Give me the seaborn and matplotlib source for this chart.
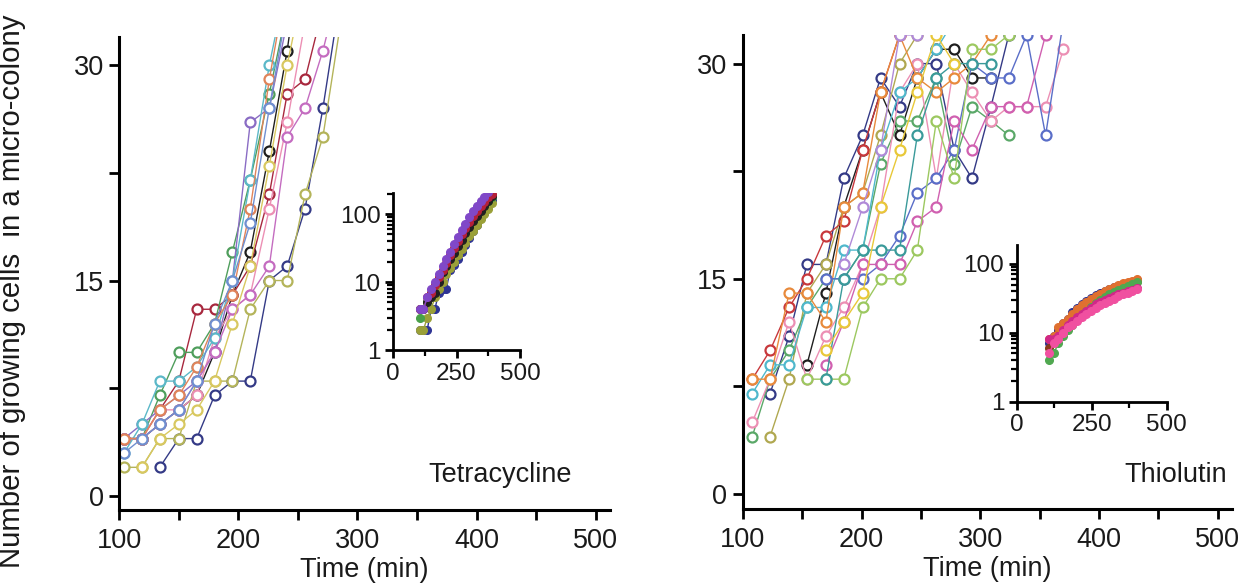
import numpy as np
import pandas as pd
import matplotlib
matplotlib.use("Agg")
import matplotlib.pyplot as plt
import seaborn as sns
from matplotlib.ticker import LogLocator, NullFormatter, FixedLocator

nan = np.nan

# ---------------- data: Tetracycline (left) ----------------
t_left = [104, 119, 134, 150, 165, 180, 195, 210, 226, 241, 256, 271, 286, 301]
l_black  = [4, 4, 5, 6, 7, 10, 14, 17, 24, 31, 40]
l_navy   = [nan, nan, 2, 4, 4, 7, 8, 8, 15, 16, 20, 27, 35]
l_khaki  = [2, 2, 4, 4, 8, 8, 8, 13, 15, 15, 21, 25, 33]
l_red    = [4, 4, 6, 8, 13, 13, 14, 16, 21, 28, 29, 34]
l_green  = [4, 4, 7, 10, 10, 12, 17, 22, 28, 34]
l_pink   = [4, 4, 6, 6, 7, 11, 13, 14, 20, 26, 33]
l_purple = [4, 5, 6, 7, 8, 10, 15, 26, 27, 33]
l_cyan   = [3, 5, 8, 8, 9, 11, 15, 22, 30, 36]
l_mauve  = [4, 4, 5, 6, 8, 10, 13, 14, 16, 25, 27, 31, 36]
l_orange = [4, 4, 6, 7, 9, 12, 14, 20, 29, 36]
l_blue   = [3, 4, 5, 6, 8, 12, 15, 19, 27, 34]
l_yellow = [nan, 2, 4, 5, 6, 8, 12, 16, 23, 30, 36]

# inset (log scale), Tetracycline
ti_left = [105, 120, 135, 150, 165, 180, 195, 210, 225, 240, 255, 270, 285, 300, 315, 330, 345, 360, 375, 390]
li_purple = [4, 4, 6, 8, 10, 13, 17, 22, 28, 36, 46, 58, 72, 90, 110, 130, 155, 180, 210, 250]
li_red    = [4, 4, 6, 7, 9, 12, 15, 19, 25, 32, 40, 50, 62, 76, 92, 110, 130, 150, 175, 200]
li_olive  = [2, 2, 3, 4, 6, 8, 10, 13, 16, 20, 25, 31, 38, 47, 57, 70, 85, 100, 120, 145]
li_navy   = [2, 2, 2, 4, 4, 7, 8, 8, 15, 18, 22, 28, 35, 45, 57, 70, 88, 105, 130, 160]
li_green  = [3, 4, 5, 7, 9, 11, 14, 18, 23, 29, 36, 45, 56, 68, 82, 98, 116, 135, 155, 180]
li_black  = [4, 4, 5, 6, 7, 10, 14, 17, 22, 27, 34, 42, 52, 64, 78, 95, 112, 132, 155, 185]

# ---------------- data: Thiolutin (right) ----------------
t_right = [108, 123, 139, 154, 170, 185, 201, 216, 232, 247, 263, 278, 293, 309, 324, 339, 355, 370]
r_black   = [nan, nan, nan, 9, 14, 20, 24, 28, 25, 29, 31, 31, 29, 29]
r_navy    = [nan, 7, 11, 16, 16, 22, 25, 29, 27, 30, 30, 24, 22, 27, 32, 33]
r_olive   = [nan, 4, 8, 14, 16, 20, 21, 25, 30, 32, 33]
r_green   = [4, 8, 10, 13, 15, 15, 17, 23, 26, 26, 29, 23, 27, 26, 25]
r_pink    = [5, 8, 12, 8, 11, 13, 16, 20, 28, 30, 22, 30, 28, 26, 27, 27, 27, 31]
r_cyan    = [7, 9, 9, 13, 13, 17, 17, 24, 28, 29, 31, 33]
r_red     = [8, 10, 13, 15, 18, 19, 24, 28, 32, 35]
r_orange  = [8, 8, 14, 14, 12, 20, 21, 28, 32, 29, 28, 29, 30, 32]
r_blue    = [nan, nan, nan, nan, 15, 15, 15, 16, 18, 21, 22, 24, 30, 29, 29, 32, 25, 33]
r_magenta = [nan, nan, nan, nan, 9, 12, 16, 16, 16, 19, 20, 26, 24, 27, 27, 27, 32]
r_ygreen  = [nan, nan, nan, 8, 8, 8, 13, 15, 15, 17, 26, 22, 31, 31, 32]
r_teal    = [nan, nan, nan, nan, 8, 15, 17, 17, 17, 25, 29, 30, 30, 30]
r_lilac   = [nan, nan, nan, nan, nan, 16, 20, 24, 32, 32]
r_yellow  = [nan, nan, nan, nan, 10, 12, 14, 20, 24, 28, 32, 30]

# inset (log scale), Thiolutin
ti_right = [108, 123, 139, 154, 170, 185, 201, 216, 232, 247, 263, 278, 293, 309, 324, 339, 355, 370, 385, 400]
ri_green   = [4, 5, 7, 9, 11, 13, 16, 18, 21, 24, 27, 30, 33, 36, 39, 42, 45, 48, 51, 55]
ri_orange  = [8, 9, 12, 14, 16, 19, 22, 25, 28, 31, 34, 37, 40, 43, 46, 49, 52, 55, 57, 60]
ri_navy    = [7, 9, 11, 14, 16, 20, 23, 26, 29, 32, 35, 38, 40, 43, 46, 48, 50, 53, 55, 58]
ri_brown   = [6, 8, 10, 13, 15, 18, 21, 24, 27, 30, 33, 36, 39, 41, 44, 47, 50, 52, 54, 57]
ri_pink    = [5, 7, 8, 10, 12, 13, 15, 17, 19, 21, 23, 25, 27, 29, 31, 34, 36, 38, 40, 43]
ri_magenta = [8, 8, 9, 11, 13, 15, 17, 19, 21, 23, 26, 28, 30, 32, 34, 36, 38, 40, 42, 45]


def long_df(times, series):
    rows = []
    for name, vals in series.items():
        for t, v in zip(times, vals):
            if not np.isnan(v):
                rows.append((name, t, v))
    return pd.DataFrame(rows, columns=["series", "time", "cells"])


left_series = {"black": l_black, "navy": l_navy, "khaki": l_khaki, "red": l_red,
               "green": l_green, "pink": l_pink, "purple": l_purple, "cyan": l_cyan,
               "mauve": l_mauve, "orange": l_orange, "blue": l_blue, "yellow": l_yellow}
left_pal = {"black": "#1e1e1e", "navy": "#343a86", "khaki": "#b4b45a", "red": "#a8283e",
            "green": "#4f9e5c", "pink": "#ec8fb4", "purple": "#8a6cc4", "cyan": "#5bb8c8",
            "mauve": "#c46cc0", "orange": "#e0845a", "blue": "#6f8fd0", "yellow": "#d8c860"}

right_series = {"black": r_black, "navy": r_navy, "olive": r_olive, "green": r_green,
                "pink": r_pink, "cyan": r_cyan, "red": r_red, "orange": r_orange,
                "blue": r_blue, "magenta": r_magenta, "ygreen": r_ygreen, "teal": r_teal,
                "lilac": r_lilac, "yellow": r_yellow}
right_pal = {"black": "#1e1e1e", "navy": "#343a86", "olive": "#b0a850", "green": "#5aa868",
             "pink": "#ec8fb4", "cyan": "#4fb8cc", "red": "#c8383c", "orange": "#e88a3c",
             "blue": "#5a6ec8", "magenta": "#d060b0", "ygreen": "#9cc860", "teal": "#3a9a9a",
             "lilac": "#b08ad8", "yellow": "#e8c838"}

li_series = {"navy": li_navy, "olive": li_olive, "green": li_green, "black": li_black,
             "red": li_red, "purple": li_purple}
li_pal = {"navy": "#2e3494", "olive": "#9aa038", "green": "#48a048", "black": "#202020",
          "red": "#b42038", "purple": "#8048c8"}
ri_series = {"navy": ri_navy, "brown": ri_brown, "orange": ri_orange, "green": ri_green,
             "magenta": ri_magenta, "pink": ri_pink}
ri_pal = {"navy": "#2e3494", "brown": "#8b3a1a", "orange": "#e07030", "green": "#50a850",
          "magenta": "#d02888", "pink": "#f050a0"}

# ---------------- figure ----------------
sns.set_theme(style="white")
plt.rcParams["font.family"] = ["Liberation Sans", "DejaVu Sans"]
plt.rcParams["axes.linewidth"] = 2.2

fig = plt.figure(figsize=(12.54, 5.86), dpi=100)
axL = fig.add_axes([0.0951, 0.1297, 0.3913, 0.8072])
axR = fig.add_axes([0.5923, 0.1314, 0.3902, 0.8090])
insL = fig.add_axes([0.3134, 0.4027, 0.1013, 0.2680])
insR = fig.add_axes([0.8108, 0.3145, 0.1196, 0.2674])

TXT = "#1a1a1a"


def main_panel(ax, times, series, pal, ylim, label, lx, ly):
    df = long_df(times, series)
    sns.lineplot(data=df, x="time", y="cells", hue="series", palette=pal,
                 estimator=None, sort=False, legend=False, ax=ax,
                 marker="o", markersize=7.2, linewidth=1.0)
    for line in ax.lines:
        c = line.get_color()
        line.set_markerfacecolor("white")
        line.set_markeredgecolor(c)
        line.set_markeredgewidth(1.6)
    ax.set_xlim(100, 512)
    ax.set_ylim(*ylim)
    ax.set_xticks(np.arange(100, 501, 50))
    ax.set_xticklabels([str(v) if v % 100 == 0 else "" for v in range(100, 501, 50)])
    ax.set_yticks([0, 7.5, 15, 22.5, 30])
    ax.set_yticklabels(["0", "", "15", "", "30"])
    for s in ["top", "right"]:
        ax.spines[s].set_visible(False)
    for s in ["left", "bottom"]:
        ax.spines[s].set_linewidth(2.2)
        ax.spines[s].set_color("black")
    ax.tick_params(axis="both", which="major", direction="out", length=7.5, width=2.0,
                   labelsize=19.5, colors="black", labelcolor=TXT,
                   bottom=True, left=True)
    ax.tick_params(axis="x", pad=5.5)
    ax.tick_params(axis="y", pad=3.5)
    ax.set_xlabel("Time (min)", fontsize=19.5, color=TXT, labelpad=2)
    ax.set_ylabel("")
    ax.text(lx, ly, label, ha="right", va="baseline", fontsize=19.5, color=TXT,
            clip_on=False)
    ax.set_facecolor("none")


def inset_panel(ax, times, series, pal, top):
    df = long_df(times, series)
    sns.lineplot(data=df, x="time", y="cells", hue="series", palette=pal,
                 estimator=None, sort=False, legend=False, ax=ax,
                 marker="o", markersize=5.5, linewidth=1.0)
    for line in ax.lines:
        c = line.get_color()
        line.set_markerfacecolor(c)
        line.set_markeredgecolor(c)
        line.set_markeredgewidth(1.0)
    ax.set_yscale("log")
    ax.set_xlim(0, 500)
    ax.set_ylim(1, top)
    ax.set_xticks([0, 250, 500])
    ax.set_xticklabels(["0", "250", "500"])
    ax.xaxis.set_minor_locator(FixedLocator([125, 375]))
    ax.set_yticks([1, 10, 100])
    ax.set_yticklabels(["1", "10", "100"])
    ax.yaxis.set_minor_locator(LogLocator(base=10, subs=np.arange(2, 10)))
    ax.yaxis.set_minor_formatter(NullFormatter())
    for s in ["top", "right"]:
        ax.spines[s].set_visible(False)
    for s in ["left", "bottom"]:
        ax.spines[s].set_linewidth(2.0)
        ax.spines[s].set_color("black")
    ax.tick_params(axis="both", which="major", direction="out", length=6, width=2.0,
                   labelsize=17.5, pad=3, colors="black", labelcolor=TXT,
                   bottom=True, left=True)
    ax.tick_params(axis="both", which="minor", direction="out", length=4, width=1.6,
                   colors="black", bottom=True, left=True)
    ax.set_xlabel("")
    ax.set_ylabel("")
    ax.set_facecolor("none")


main_panel(axL, t_left, left_series, left_pal, (-0.97, 31.95), "Tetracycline", 480, 1.0)
main_panel(axR, t_right, right_series, right_pal, (-1.05, 32.0), "Thiolutin", 508, 0.86)
inset_panel(insL, ti_left, li_series, li_pal, 204)
inset_panel(insR, ti_right, ri_series, ri_pal, 187)

fig.text(0.0095, 0.503, "Number of growing cells  in a micro-colony", rotation=90,
         ha="center", va="center", fontsize=21.2, color=TXT)

fig.savefig("out.png", dpi=100)
